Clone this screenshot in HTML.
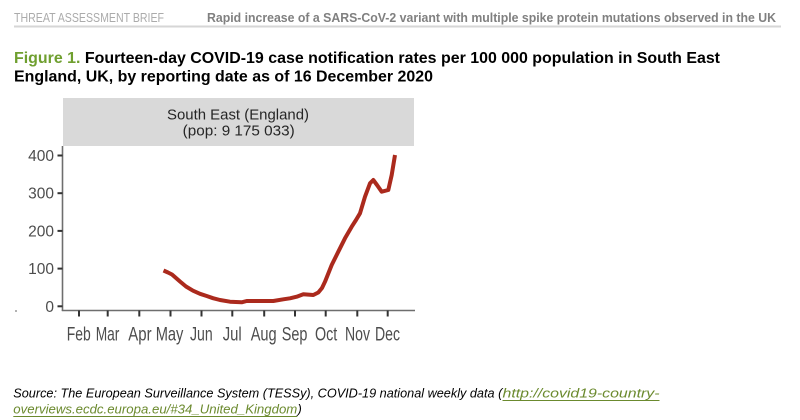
<!DOCTYPE html>
<html>
<head>
<meta charset="utf-8">
<style>
  html, body { margin:0; padding:0; background:#ffffff; }
  svg { display:block; }
  text { font-family: "Liberation Sans", Arial, sans-serif; }
</style>
</head>
<body>
<svg width="800" height="420" viewBox="0 0 800 420" xmlns="http://www.w3.org/2000/svg">
  <rect x="0" y="0" width="800" height="420" fill="#ffffff"/>

  <!-- Header -->
  <text x="14" y="22" font-size="13" fill="#ababab" textLength="150" lengthAdjust="spacingAndGlyphs">THREAT ASSESSMENT BRIEF</text>
  <text x="207" y="22" font-size="13" font-weight="bold" fill="#808080" textLength="569" lengthAdjust="spacingAndGlyphs">Rapid increase of a SARS-CoV-2 variant with multiple spike protein mutations observed in the UK</text>
  <line x1="14" y1="26.5" x2="781" y2="26.5" stroke="#d6d6d6" stroke-width="2"/>

  <!-- Title -->
  <text x="14" y="63" font-size="16" font-weight="bold" fill="#000000" textLength="706" lengthAdjust="spacingAndGlyphs"><tspan fill="#6f9f2f">Figure 1.</tspan> Fourteen-day COVID-19 case notification rates per 100 000 population in South East</text>
  <text x="14" y="81.5" font-size="16" font-weight="bold" fill="#000000" textLength="419" lengthAdjust="spacingAndGlyphs">England, UK, by reporting date as of 16 December 2020</text>

  <!-- Facet strip -->
  <rect x="63" y="98" width="351" height="48" fill="#d9d9d9"/>
  <text x="167" y="119.3" font-size="15" fill="#262626" textLength="142" lengthAdjust="spacingAndGlyphs">South East (England)</text>
  <text x="182.7" y="135.5" font-size="15" fill="#262626" textLength="112" lengthAdjust="spacingAndGlyphs">(pop: 9 175 033)</text>

  <!-- Axes -->
  <line x1="62.5" y1="146" x2="62.5" y2="311" stroke="#6e6e6e" stroke-width="1.6"/>
  <line x1="61.8" y1="310.5" x2="415" y2="310.5" stroke="#6e6e6e" stroke-width="1.6"/>

  <!-- Y ticks -->
  <g stroke="#333333" stroke-width="2">
    <line x1="57.5" y1="155.5" x2="62.5" y2="155.5"/>
    <line x1="57.5" y1="193.2" x2="62.5" y2="193.2"/>
    <line x1="57.5" y1="230.9" x2="62.5" y2="230.9"/>
    <line x1="57.5" y1="268.6" x2="62.5" y2="268.6"/>
    <line x1="57.5" y1="306.3" x2="62.5" y2="306.3"/>
  </g>
  <g font-size="15.5" fill="#4d4d4d" text-anchor="end">
    <text x="54" y="161">400</text>
    <text x="54" y="198.7">300</text>
    <text x="54" y="236.4">200</text>
    <text x="54" y="274.1">100</text>
    <text x="54" y="311.8">0</text>
  </g>
  <circle cx="16" cy="311" r="1" fill="#9a9a9a"/>

  <!-- X ticks -->
  <g stroke="#333333" stroke-width="2">
    <line x1="79" y1="310.5" x2="79" y2="316.5"/>
    <line x1="107.7" y1="310.5" x2="107.7" y2="316.5"/>
    <line x1="139.3" y1="310.5" x2="139.3" y2="316.5"/>
    <line x1="170.5" y1="310.5" x2="170.5" y2="316.5"/>
    <line x1="201.5" y1="310.5" x2="201.5" y2="316.5"/>
    <line x1="232.3" y1="310.5" x2="232.3" y2="316.5"/>
    <line x1="264.2" y1="310.5" x2="264.2" y2="316.5"/>
    <line x1="295" y1="310.5" x2="295" y2="316.5"/>
    <line x1="325.7" y1="310.5" x2="325.7" y2="316.5"/>
    <line x1="357.3" y1="310.5" x2="357.3" y2="316.5"/>
    <line x1="387.7" y1="310.5" x2="387.7" y2="316.5"/>
  </g>
  <g font-size="19.5" fill="#4d4d4d">
    <text x="66.7" y="340.7" textLength="24" lengthAdjust="spacingAndGlyphs">Feb</text>
    <text x="95.7" y="340.7" textLength="23.7" lengthAdjust="spacingAndGlyphs">Mar</text>
    <text x="128.3" y="340.7" textLength="23.3" lengthAdjust="spacingAndGlyphs">Apr</text>
    <text x="155.7" y="340.7" textLength="27.7" lengthAdjust="spacingAndGlyphs">May</text>
    <text x="190" y="340.7" textLength="22.7" lengthAdjust="spacingAndGlyphs">Jun</text>
    <text x="222.7" y="340.7" textLength="19" lengthAdjust="spacingAndGlyphs">Jul</text>
    <text x="250.7" y="340.7" textLength="26" lengthAdjust="spacingAndGlyphs">Aug</text>
    <text x="281.7" y="340.7" textLength="25.7" lengthAdjust="spacingAndGlyphs">Sep</text>
    <text x="315" y="340.7" textLength="22.3" lengthAdjust="spacingAndGlyphs">Oct</text>
    <text x="345" y="340.7" textLength="25" lengthAdjust="spacingAndGlyphs">Nov</text>
    <text x="375" y="340.7" textLength="25" lengthAdjust="spacingAndGlyphs">Dec</text>
  </g>

  <!-- Series -->
  <polyline fill="none" stroke="#ab2a1d" stroke-width="4" stroke-linejoin="round" stroke-linecap="butt"
    points="163.5,270.5 168,272.5 172,274.5 180,281.5 186,286.5 193,290.7 200,293.8 206.7,296 213,298.2 220,300 230,301.7 241.7,302.3 246.7,301 260,301 273.3,301 283.3,299.3 290,298.3 296.7,296.7 303.3,294.3 313.3,295 318.3,292.5 322,288 325,281.7 331.7,265 338.3,251.7 345,238.3 351.7,226.7 356,220 360,213.3 365,196.7 370,183.3 373.3,180 377,185 381.7,191.7 388.3,190 391.7,175 395,155"/>

  <!-- Source -->
  <text x="13.3" y="397.5" font-size="13" font-style="italic" fill="#000000" textLength="489" lengthAdjust="spacingAndGlyphs">Source: The European Surveillance System (TESSy), COVID-19 national weekly data (</text>
  <text x="502.5" y="397.5" font-size="13" font-style="italic" fill="#6b8a2e" textLength="157" lengthAdjust="spacingAndGlyphs">http://covid19-country-</text>
  <line x1="502.5" y1="400.5" x2="659.5" y2="400.5" stroke="#6b8a2e" stroke-width="1"/>
  <text x="13.3" y="413.5" font-size="13" font-style="italic" fill="#6b8a2e" textLength="284" lengthAdjust="spacingAndGlyphs">overviews.ecdc.europa.eu/#34_United_Kingdom</text>
  <line x1="13.3" y1="416.5" x2="297.3" y2="416.5" stroke="#6b8a2e" stroke-width="1"/>
  <text x="297.5" y="413.5" font-size="13" font-style="italic" fill="#000000">)</text>
</svg>
</body>
</html>
